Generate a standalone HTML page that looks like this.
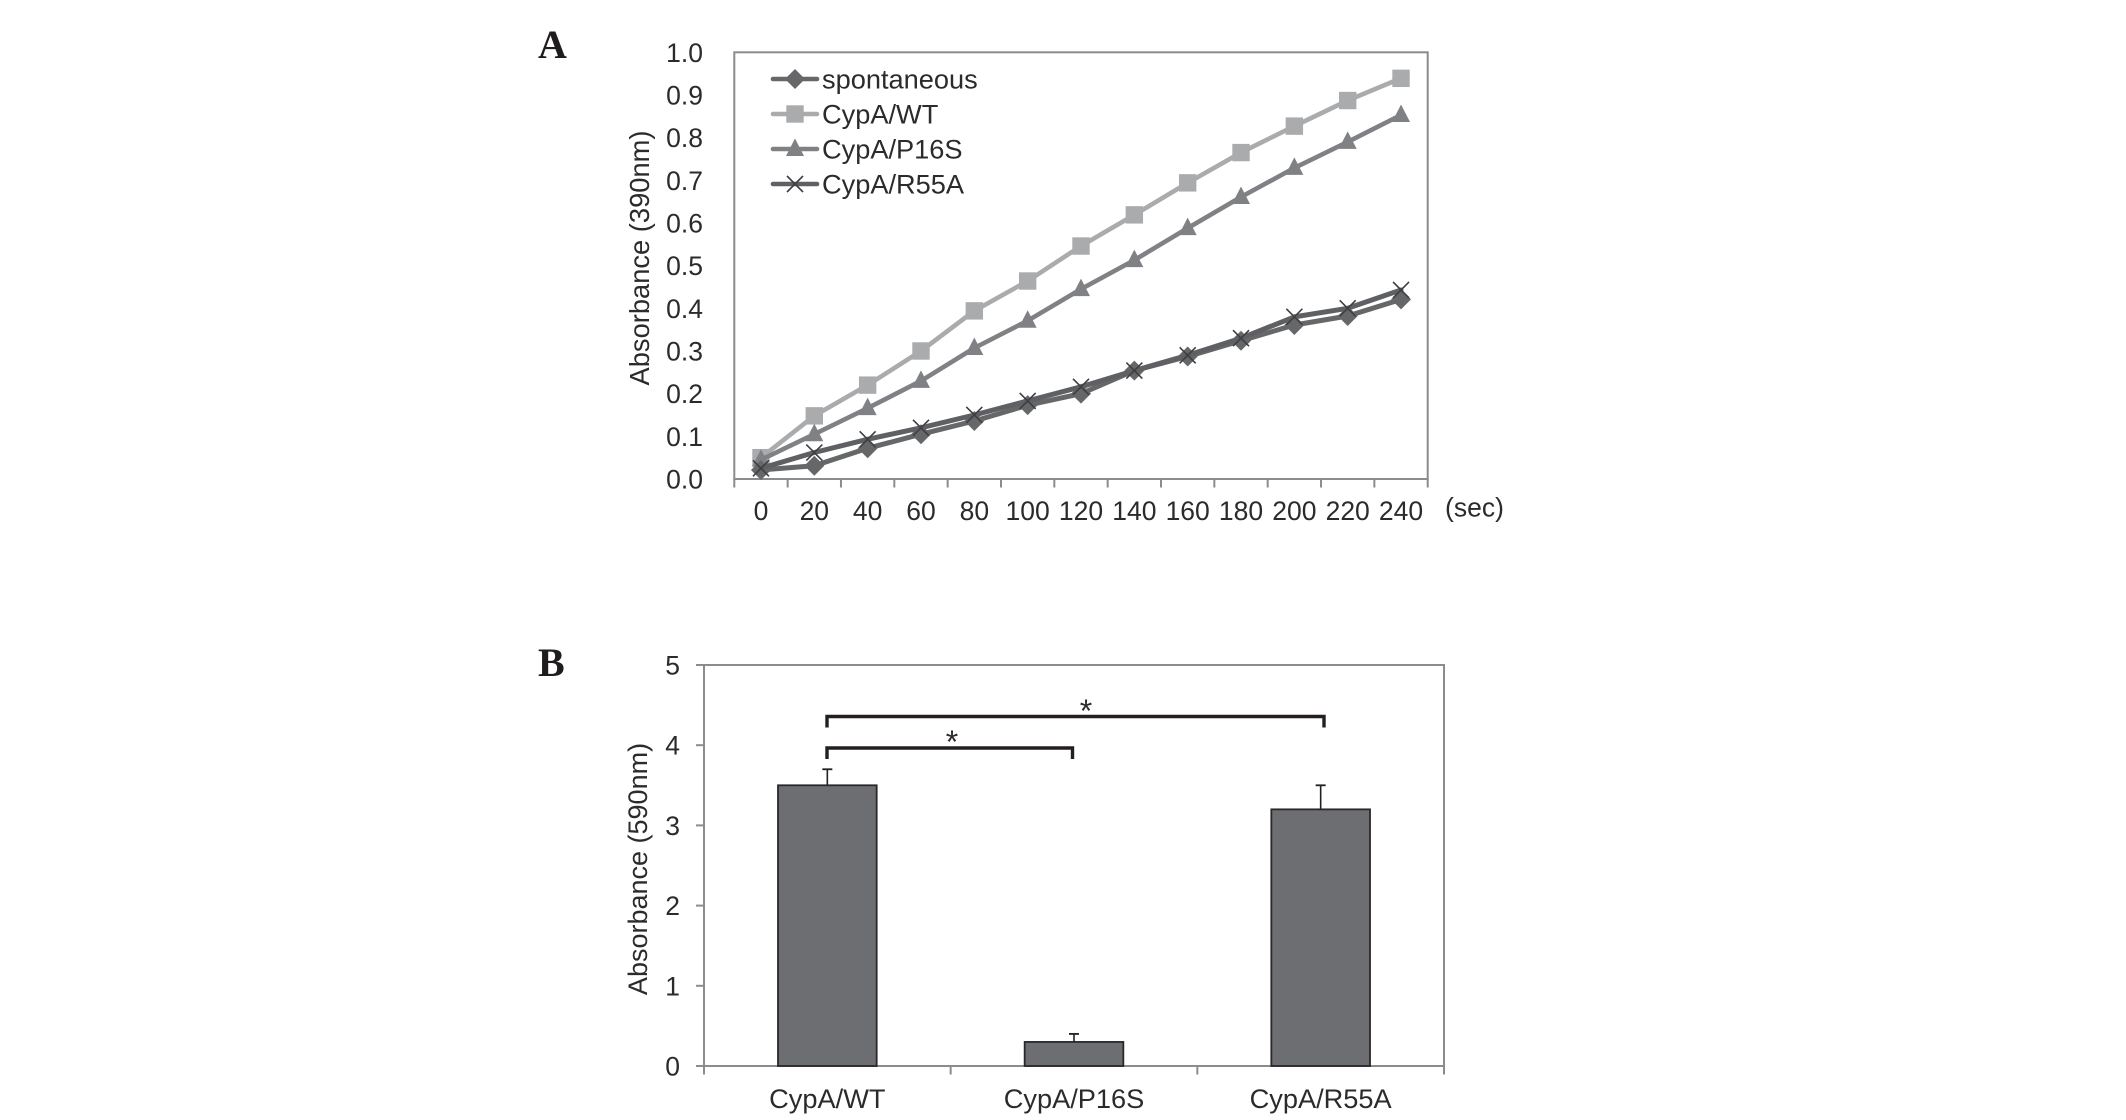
<!DOCTYPE html>
<html lang="en">
<head>
<meta charset="utf-8">
<title>Absorbance charts for CypA variants</title>
<style>
  html, body { margin: 0; padding: 0; background: #fff; }
  #figure { display: block; width: 2126px; height: 1120px; }
  text { font-family: "Liberation Sans", Arial, sans-serif; fill: #2b2b2d; }
  .panel { font-family: "Liberation Serif", serif; font-weight: bold; font-size: 40px; fill: #1e1c1d; }
</style>
</head>
<body>
<svg id="figure" xmlns="http://www.w3.org/2000/svg" width="2126" height="1120" viewBox="0 0 2126 1120">
  <rect x="0" y="0" width="2126" height="1120" fill="#ffffff"/>
  <text class="panel" x="538" y="58">A</text>
  <text class="panel" x="538" y="676">B</text>
  <g id="chart-a"></g>
  <g id="chart-b"></g>
</svg>
<script>
// ---- Chart A data ----
const timeLabels = ['0','20','40','60','80','100','120','140','160','180','200','220','240'];
const yTicksA = ['0.0','0.1','0.2','0.3','0.4','0.5','0.6','0.7','0.8','0.9','1.0'];
const spontaneous = [0.021,0.031,0.072,0.105,0.136,0.173,0.200,0.254,0.287,0.324,0.361,0.382,0.421];
const cypaWT = [0.050,0.148,0.220,0.300,0.394,0.464,0.546,0.619,0.694,0.765,0.827,0.887,0.939];
const cypaP16S = [0.045,0.105,0.166,0.230,0.307,0.371,0.445,0.513,0.588,0.661,0.729,0.790,0.853];
const cypaR55A = [0.025,0.062,0.093,0.120,0.150,0.183,0.216,0.254,0.290,0.330,0.380,0.400,0.443];
const legendLabels = ['spontaneous','CypA/WT','CypA/P16S','CypA/R55A'];

// ---- Chart B data ----
const barCategories = ['CypA/WT','CypA/P16S','CypA/R55A'];
const barValues = [3.5,0.3,3.2];
const barErrors = [0.2,0.1,0.3];
const yTicksB = ['0','1','2','3','4','5'];

const NS = 'http://www.w3.org/2000/svg';
const chartA = document.getElementById('chart-a');
const chartB = document.getElementById('chart-b');

function make(parent, tag, attrs, content) {
  const el = document.createElementNS(NS, tag);
  for (const k in attrs) el.setAttribute(k, attrs[k]);
  if (content !== undefined) el.textContent = content;
  parent.appendChild(el);
  return el;
}

// axis functions
const A = { left: 734.3, right: 1427.7, top: 52.3, bottom: 479 };
const B = { left: 704, right: 1444, top: 665, bottom: 1066 };
const xA = i => A.left + (i + 0.5) * (A.right - A.left) / timeLabels.length;
const yA = v => A.bottom - v * (A.bottom - A.top) / 1.0;
const xB = i => B.left + (i + 0.5) * (B.right - B.left) / barCategories.length;
const yB = v => B.bottom - v * (B.bottom - B.top) / 5;

const AXIS = '#8b8c8e';

// ---- Chart A frame ----
const frameA = make(chartA, 'rect', { x: A.left, y: A.top, width: A.right - A.left, height: A.bottom - A.top, fill: 'none', stroke: AXIS, 'stroke-width': 2 });



yTicksA.forEach(function (t) {
  const label = make(chartA, 'text', { x: 703, y: yA(parseFloat(t)) + 9.5, 'text-anchor': 'end', 'font-size': 26.5 }, t);
  
  
});

timeLabels.forEach(function (t, i) {
  const label = make(chartA, 'text', { x: xA(i), y: 520, 'text-anchor': 'middle', 'font-size': 26.5 }, t);
  
  
});

for (let i = 0; i <= timeLabels.length; i++) {
  const x = A.left + i * (A.right - A.left) / timeLabels.length;
  const tick = make(chartA, 'line', { x1: x, x2: x, y1: A.bottom, y2: 487.5, stroke: AXIS, 'stroke-width': 2 });
  
  
}

const titleA = make(chartA, 'text', { x: 0, y: 0, transform: 'translate(649,258) rotate(-90)', 'text-anchor': 'middle', 'font-size': 27.3 }, 'Absorbance (390nm)');



const unitA = make(chartA, 'text', { x: 1445, y: 516.5, 'font-size': 26.5 }, '(sec)');



// markers
function drawMarker(parent, kind, cx, cy, color) {
  const s = 8.7;
  let m;
  if (kind === 'square') {
    m = make(parent, 'rect', { x: cx - s, y: cy - s, width: 2 * s, height: 2 * s, fill: color });
  } else if (kind === 'triangle') {
    m = make(parent, 'polygon', { points: [cx, cy - 10.5, cx + 9, cy + 7, cx - 9, cy + 7].join(' '), fill: color });
  } else if (kind === 'diamond') {
    m = make(parent, 'polygon', { points: [cx, cy - 10, cx + 10, cy, cx, cy + 10, cx - 10, cy].join(' '), fill: color });
  } else {
    m = make(parent, 'path', { d: 'M' + (cx - 8) + ' ' + (cy - 8) + 'L' + (cx + 8) + ' ' + (cy + 8) + 'M' + (cx + 8) + ' ' + (cy - 8) + 'L' + (cx - 8) + ' ' + (cy + 8), stroke: '#3f3f42', 'stroke-width': 1.6, fill: 'none' });
  }
  return m;
}

const seriesOrder = [
  { name: 'cypa-wt', values: cypaWT, kind: 'square', color: '#aaabad', width: 4.6 },
  { name: 'cypa-p16s', values: cypaP16S, kind: 'triangle', color: '#808184', width: 4.6 },
  { name: 'spontaneous', values: spontaneous, kind: 'diamond', color: '#666769', width: 5 },
  { name: 'cypa-r55a', values: cypaR55A, kind: 'cross', color: '#5f6063', width: 5 }
];

seriesOrder.forEach(function (s) {
  const pts = s.values.map(function (v, i) { return xA(i).toFixed(1) + ',' + yA(v).toFixed(1); }).join(' ');
  const line = make(chartA, 'polyline', { points: pts, fill: 'none', stroke: s.color, 'stroke-width': s.width, 'stroke-linejoin': 'round', 'stroke-linecap': 'round' });
  
  
  s.values.forEach(function (v, i) {
    const m = drawMarker(chartA, s.kind, xA(i), yA(v), s.color);
    
    
  });
});

// legend
const legendKinds = [
  { kind: 'diamond', color: '#666769' },
  { kind: 'square', color: '#aaabad' },
  { kind: 'triangle', color: '#808184' },
  { kind: 'cross', color: '#5f6063' }
];
legendLabels.forEach(function (name, i) {
  const y = 79 + i * 35;
  const g = make(chartA, 'g', {});
  
  
  const ln = make(g, 'line', { x1: 773, x2: 817, y1: y, y2: y, stroke: legendKinds[i].color, 'stroke-width': 4.6, 'stroke-linecap': 'round' });
  
  
  const mk = drawMarker(g, legendKinds[i].kind, 795, y, legendKinds[i].color);
  
  
  const tx = make(g, 'text', { x: 822, y: y + 9.5, 'font-size': 27.2 }, name);
  
  
});

// ---- Chart B ----
const frameB = make(chartB, 'rect', { x: B.left, y: B.top, width: B.right - B.left, height: B.bottom - B.top, fill: 'none', stroke: AXIS, 'stroke-width': 2 });



yTicksB.forEach(function (t) {
  const y = yB(parseFloat(t));
  const tick = make(chartB, 'line', { x1: 696, x2: B.left, y1: y, y2: y, stroke: AXIS, 'stroke-width': 2 });
  
  
  const label = make(chartB, 'text', { x: 680, y: y + 9.5, 'text-anchor': 'end', 'font-size': 26.5 }, t);
  
  
});

for (let i = 0; i <= barCategories.length; i++) {
  const x = B.left + i * (B.right - B.left) / barCategories.length;
  const tick = make(chartB, 'line', { x1: x, x2: x, y1: B.bottom, y2: 1074.5, stroke: AXIS, 'stroke-width': 2 });
  
  
}

const titleB = make(chartB, 'text', { x: 0, y: 0, transform: 'translate(647,869) rotate(-90)', 'text-anchor': 'middle', 'font-size': 27 }, 'Absorbance (590nm)');



const barWidth = 0.4 * (B.right - B.left) / barCategories.length;
barCategories.forEach(function (cat, i) {
  const cx = xB(i);
  const top = yB(barValues[i]);
  const errTop = yB(barValues[i] + barErrors[i]);

  const stem = make(chartB, 'line', { x1: cx, x2: cx, y1: top, y2: errTop, stroke: '#231f20', 'stroke-width': 1.6 });
  
  

  const cap = make(chartB, 'line', { x1: cx - 5, x2: cx + 5, y1: errTop, y2: errTop, stroke: '#231f20', 'stroke-width': 1.8 });
  
  

  const bar = make(chartB, 'rect', { x: cx - barWidth / 2, y: top, width: barWidth, height: B.bottom - top, fill: '#6d6e71', stroke: '#2a2729', 'stroke-width': 1.8 });
  
  

  const label = make(chartB, 'text', { x: cx, y: 1108, 'text-anchor': 'middle', 'font-size': 27.2 }, cat);
  
  
});

// significance brackets
const bracketWide = make(chartB, 'path', { d: 'M827 727.5V716.5H1324V727.5', fill: 'none', stroke: '#231f20', 'stroke-width': 3.4 });



const bracketNarrow = make(chartB, 'path', { d: 'M827 759V748H1072.5V759', fill: 'none', stroke: '#231f20', 'stroke-width': 3.4 });



const starWide = make(chartB, 'text', { x: 1086, y: 722, 'text-anchor': 'middle', 'font-size': 32 }, '*');



const starNarrow = make(chartB, 'text', { x: 952, y: 753, 'text-anchor': 'middle', 'font-size': 32 }, '*');


</script>
</body>
</html>
